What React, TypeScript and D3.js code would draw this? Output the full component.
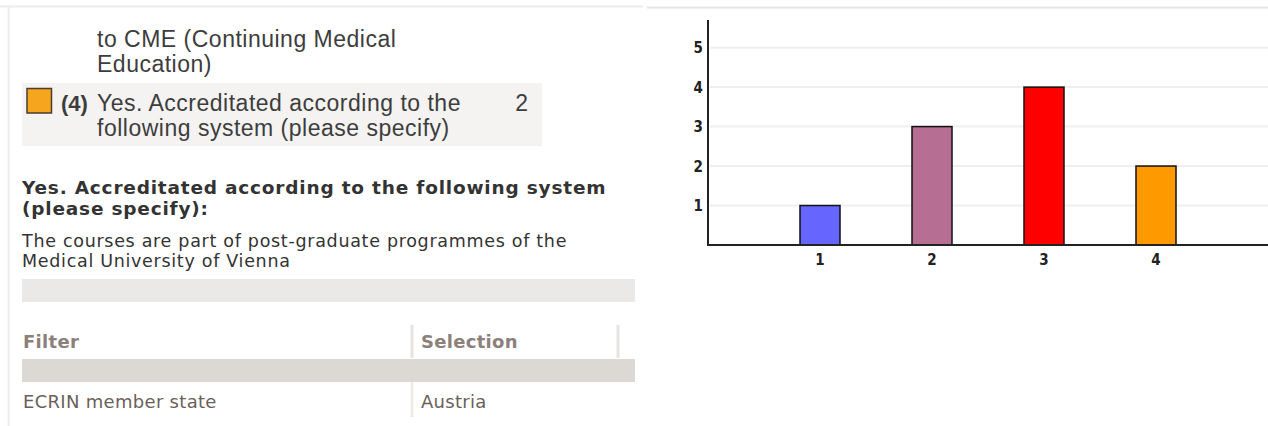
import { scaleLinear } from "d3";

// answer options on the x axis and how many picked each
const categories = ["1", "2", "3", "4"];
const counts = [1, 3, 4, 2];
const yTicks = [1, 2, 3, 4, 5];
const barColors = ["#6666ff", "#b66f92", "#ff0000", "#ff9900"];

const optionTail = ["to CME (Continuing Medical", "Education)"];
const optionLabel = ["Yes. Accreditated according to the", "following system (please specify)"];
const optionNumber = "(4)";
const optionCount = 2;

const specifyTitle = ["Yes. Accreditated according to the following system", "(please specify):"];
const specifyText = ["The courses are part of post-graduate programmes of the", "Medical University of Vienna"];

const filterHead = ["Filter", "Selection"];
const filterRow = ["ECRIN member state", "Austria"];

const W = 1268,
  H = 426;

const helv = "'Liberation Sans', Arial, Helvetica, sans-serif";
const verd = "'DejaVu Sans', Verdana, sans-serif";
const narrow = "'Liberation Sans Narrow', 'DejaVu Sans Condensed', 'Liberation Sans', sans-serif";

function Chart() {
  const x = scaleLinear().domain([0, 5]).range([708, 1268]);
  const y = scaleLinear().domain([0, 5.7]).range([245, 20]);
  const barW = 40;
  return (
    <g>
      {yTicks.map((t) => (
        <line key={"g" + t} x1={x(0) + 2} x2={W} y1={y(t)} y2={y(t)} stroke="#efefef" strokeWidth={2} />
      ))}
      {counts.map((v, i) => (
        <rect
          key={categories[i]}
          x={x(i + 1) - barW / 2}
          y={y(v)}
          width={barW}
          height={y(0) - y(v)}
          fill={barColors[i]}
          stroke="#111"
          strokeWidth={1.5}
        />
      ))}
      <line x1={x(0)} x2={x(0)} y1={y(5.7)} y2={y(0) + 1} stroke="#222" strokeWidth={2} />
      <line x1={x(0) - 1} x2={W} y1={y(0)} y2={y(0)} stroke="#222" strokeWidth={2} />
      {yTicks.map((t) => (
        <text key={"y" + t} x={703} y={y(t) + 5.5} textAnchor="end" fontFamily={narrow} fontWeight="bold" fontSize={15} fill="#222">
          {t}
        </text>
      ))}
      {categories.map((c, i) => (
        <text key={"x" + c} x={x(i + 1)} y={y(0) + 20} textAnchor="middle" fontFamily={narrow} fontWeight="bold" fontSize={15} fill="#222">
          {c}
        </text>
      ))}
    </g>
  );
}

export default function App() {
  return (
    <svg width={W} height={H} style={{ position: "absolute", left: 0, top: 0, background: "#fff" }}>
      {/* panel borders */}
      <line x1={0} x2={643} y1={6.5} y2={6.5} stroke="#ececec" strokeWidth={2} />
      <line x1={647} x2={W} y1={7.5} y2={7.5} stroke="#e6e6e6" strokeWidth={2} />
      <line x1={8.5} x2={8.5} y1={6} y2={H} stroke="#ececec" strokeWidth={2} />

      {/* previous option tail */}
      {optionTail.map((s, i) => (
        <text key={s} x={97} y={47 + i * 25} fontFamily={helv} fontSize={23} letterSpacing={0.5} fill="#3d3d3d">
          {s}
        </text>
      ))}

      {/* option 4 row */}
      <rect x={22} y={83} width={520} height={63} fill="#f4f3f2" />
      <rect x={27} y={88.5} width={24.5} height={24.5} fill="#f6a51f" stroke="#4a3d30" strokeWidth={1.5} />
      <text x={61} y={111} fontFamily={helv} fontSize={22} fontWeight="bold" fill="#3d3d3d">
        {optionNumber}
      </text>
      {optionLabel.map((s, i) => (
        <text key={s} x={97} y={111 + i * 25} fontFamily={helv} fontSize={23} letterSpacing={0.5} fill="#3d3d3d">
          {s}
        </text>
      ))}
      <text x={528} y={111} textAnchor="end" fontFamily={helv} fontSize={23} fill="#3d3d3d">
        {optionCount}
      </text>

      {/* free text answer */}
      {specifyTitle.map((s, i) => (
        <text key={s} x={22} y={194 + i * 21} fontFamily={verd} fontSize={18.5} letterSpacing={0.8} fontWeight="bold" fill="#333">
          {s}
        </text>
      ))}
      {specifyText.map((s, i) => (
        <text key={s} x={22} y={247 + i * 19.5} fontFamily={verd} fontSize={17.5} letterSpacing={0.7} fill="#333">
          {s}
        </text>
      ))}

      {/* filter table */}
      <rect x={22} y={279} width={613} height={23} fill="#ebe9e7" />
      <line x1={412} x2={412} y1={325} y2={358} stroke="#e6e3e1" strokeWidth={3} />
      <line x1={618} x2={618} y1={325} y2={358} stroke="#e6e3e1" strokeWidth={3} />
      <text x={23} y={348} fontFamily={verd} fontSize={18} letterSpacing={0.3} fontWeight="bold" fill="#8c807b">
        {filterHead[0]}
      </text>
      <text x={421} y={348} fontFamily={verd} fontSize={18} letterSpacing={0.3} fontWeight="bold" fill="#8c807b">
        {filterHead[1]}
      </text>
      <rect x={22} y={359} width={613} height={23} fill="#dcd8d4" />
      <line x1={412} x2={412} y1={382} y2={417} stroke="#eeecea" strokeWidth={3} />
      <text x={23} y={408} fontFamily={verd} fontSize={18} letterSpacing={0.3} fill="#6b5f5a">
        {filterRow[0]}
      </text>
      <text x={421} y={408} fontFamily={verd} fontSize={18} letterSpacing={0.3} fill="#6b5f5a">
        {filterRow[1]}
      </text>

      <Chart />
    </svg>
  );
}
